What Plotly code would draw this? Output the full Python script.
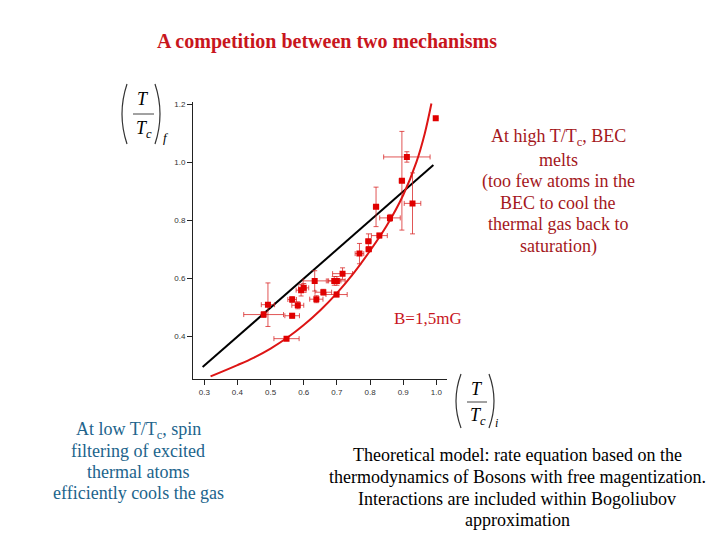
import plotly.graph_objects as go

# ---- data ----
t_initial = [0.998, 0.911, 0.896, 0.928, 0.818, 0.860, 0.828, 0.795, 0.796, 0.768,
             0.717, 0.692, 0.700, 0.633, 0.600, 0.592, 0.659, 0.699, 0.638, 0.565,
             0.582, 0.492, 0.479, 0.565, 0.548]
t_final = [1.152, 1.019, 0.937, 0.859, 0.847, 0.809, 0.748, 0.729, 0.701, 0.686,
           0.617, 0.592, 0.592, 0.592, 0.568, 0.560, 0.553, 0.545, 0.529, 0.528,
           0.508, 0.510, 0.476, 0.472, 0.393]
err_x = [0.0, 0.070, 0.008, 0.025, 0.008, 0.031, 0.024, 0.008, 0.008, 0.013,
         0.030, 0.020, 0.025, 0.035, 0.015, 0.015, 0.025, 0.032, 0.020, 0.013,
         0.018, 0.020, 0.060, 0.022, 0.038]
err_y = [0.0, 0.018, 0.170, 0.105, 0.068, 0.012, 0.008, 0.025, 0.008, 0.035,
         0.020, 0.015, 0.015, 0.035, 0.015, 0.020, 0.010, 0.008, 0.012, 0.010,
         0.012, 0.075, 0.010, 0.008, 0.005]

model_x = [0.319, 0.40, 0.45, 0.50, 0.55, 0.60, 0.65, 0.70, 0.75, 0.80,
           0.85, 0.90, 0.94, 0.965, 0.985]
model_y = [0.263, 0.302, 0.328, 0.359, 0.396, 0.440, 0.491, 0.550, 0.618, 0.696,
           0.782, 0.888, 1.002, 1.100, 1.203]

ref_x = [0.295, 0.991]
ref_y = [0.295, 0.991]

x_ticks = [0.3, 0.4, 0.5, 0.6, 0.7, 0.8, 0.9, 1.0]
y_ticks = [0.4, 0.6, 0.8, 1.0, 1.2]

W, H = 720, 540
OFF = 8  # page body margin offset
def px(x):
    return (x - OFF) / W
def py(y):
    return 1 - (y - OFF) / H

RED = "#e00000"
fig = go.Figure()

fig.add_trace(go.Scatter(
    x=ref_x, y=ref_y, mode="lines",
    line=dict(color="black", width=2), showlegend=False))

fig.add_trace(go.Scatter(
    x=model_x, y=model_y, mode="lines",
    line=dict(color="#dd1515", width=2, shape="spline", smoothing=1.0),
    showlegend=False))

fig.add_trace(go.Scatter(
    x=t_initial, y=t_final, mode="markers",
    marker=dict(symbol="square", size=6, color=RED),
    error_x=dict(type="data", array=err_x, visible=True,
                 color="rgba(215,30,30,0.75)", thickness=1, width=2.5),
    error_y=dict(type="data", array=err_y, visible=True,
                 color="rgba(215,30,30,0.75)", thickness=1, width=2.5),
    showlegend=False))

axis_common = dict(
    showgrid=False, zeroline=False, showline=True, linecolor="#222",
    linewidth=1, ticks="outside", ticklen=5, tickcolor="#222",
    tickfont=dict(family="Liberation Sans, Arial", size=8, color="#333"),
)

fig.update_layout(
    width=W, height=H,
    margin=dict(l=0, r=0, t=0, b=0),
    paper_bgcolor="white", plot_bgcolor="white",
    xaxis=dict(range=[0.266, 1.032], domain=[px(193), px(447)],
               tickvals=x_ticks, ticktext=[f"{v:.1f}" for v in x_ticks],
               **axis_common),
    yaxis=dict(range=[0.253, 1.21], domain=[py(379.3), py(101.5)],
               tickvals=y_ticks, ticktext=[f"{v:.1f}" for v in y_ticks],
               **axis_common),
)

SERIF = "Liberation Serif, Times New Roman, serif"
ann = []
def text(x, y, t, size=16, color="black", family=SERIF):
    ann.append(dict(x=px(x), y=py(y), xref="paper", yref="paper", text=t,
                    showarrow=False, xanchor="center", yanchor="middle",
                    font=dict(family=family, size=size, color=color)))
def lines(x, y0, step, rows, size, color):
    for i, r in enumerate(rows):
        text(x, y0 + i * step, r, size=size, color=color)

text(327, 41, "<b>A competition between two mechanisms</b>", size=20, color="#c8161d")
lines(558, 138, 21.6, ["At high T/T<sub>c</sub>, BEC", "melts", "(too few atoms in the",
                       "BEC to cool the", "thermal gas back to", "saturation)"],
      18, "#a4171c")
text(428, 318, "B=1,5mG", size=17, color="#c8161d")
lines(138, 430, 21, ["At low T/T<sub>c</sub>, spin", "filtering of excited",
                     "thermal atoms", "efficiently cools the gas"], 18, "#21648c")
lines(517, 455, 21.8, ["Theoretical model: rate equation based on the",
                       "thermodynamics of Bosons with free magentization.",
                       "Interactions are included within Bogoliubov",
                       "approximation"], 18, "black")

# axis-title fractions (T/Tc)_f and (T/Tc)_i
text(143, 99, "<i>T</i>", size=18)
text(144, 129, "<i>T<sub>c</sub></i>", size=18)
text(166, 137, "<i>f</i>", size=13)
text(477, 389, "<i>T</i>", size=18)
text(478, 416, "<i>T<sub>c</sub></i>", size=18)
text(496, 423, "<i>i</i>", size=12)
fig.update_layout(annotations=ann)

shapes = []
def pline(x0, y0, x1, y1):
    shapes.append(dict(type="line", xref="paper", yref="paper",
                       x0=px(x0), y0=py(y0), x1=px(x1), y1=py(y1),
                       line=dict(color="#444", width=1)))
def paren(xe, xb, y0, y1):
    path = f"M {px(xe)},{py(y0)} Q {px(xb)},{py((y0 + y1) / 2)} {px(xe)},{py(y1)}"
    shapes.append(dict(type="path", xref="paper", yref="paper", path=path,
                       line=dict(color="#333", width=1.2)))

pline(133, 114, 154, 114)
paren(127, 117, 84, 144)
paren(155, 165, 84, 144)
pline(467, 402, 487, 402)
paren(461, 451, 374, 428)
paren(489, 499, 374, 428)
fig.update_layout(shapes=shapes)

fig.write_html("out.html")
